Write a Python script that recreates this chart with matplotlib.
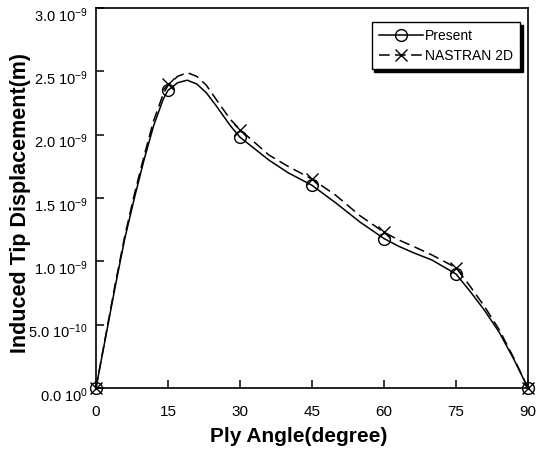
import matplotlib
matplotlib.use("Agg")
import matplotlib.pyplot as plt
import matplotlib.transforms as mtransforms

plt.rcParams["font.family"] = ["Liberation Sans", "DejaVu Sans"]
plt.rcParams["mathtext.default"] = "regular"

# Marker values at the computed ply angles (x 1e-9 m)
ply_angles = [0, 15, 30, 45, 60, 75, 90]
present_pts = [0.0, 2.35, 1.98, 1.60, 1.18, 0.90, 0.0]
nastran_pts = [0.0, 2.40, 2.04, 1.65, 1.23, 0.95, 0.0]

# Curves (x 1e-9 m)
curve_angles = [0, 2, 4, 6, 8, 10, 12, 14, 15, 17, 19, 21, 23, 25, 28, 30,
                33, 36, 40, 45, 50, 55, 60, 63, 66, 70, 75, 78, 81, 84, 87, 90]
present_curve = [0.0, 0.40, 0.80, 1.18, 1.50, 1.80, 2.07, 2.28, 2.35, 2.41,
                 2.43, 2.40, 2.33, 2.23, 2.07, 1.98, 1.89, 1.80, 1.70, 1.60,
                 1.46, 1.31, 1.18, 1.12, 1.07, 1.01, 0.90, 0.76, 0.61, 0.44,
                 0.23, 0.0]
nastran_curve = [0.0, 0.41, 0.82, 1.20, 1.53, 1.83, 2.11, 2.32, 2.39, 2.46,
                 2.49, 2.46, 2.39, 2.28, 2.12, 2.04, 1.94, 1.84, 1.75, 1.65,
                 1.52, 1.36, 1.23, 1.17, 1.12, 1.05, 0.95, 0.80, 0.64, 0.46,
                 0.24, 0.0]

y_ticks = [0.0, 0.5, 1.0, 1.5, 2.0, 2.5, 3.0]
y_tick_labels = [r"0.0 10$^{0}$", r"5.0 10$^{-10}$", r"1.0 10$^{-9}$",
                 r"1.5 10$^{-9}$", r"2.0 10$^{-9}$", r"2.5 10$^{-9}$",
                 r"3.0 10$^{-9}$"]

fig = plt.figure(figsize=(5.4, 4.55), dpi=100)
ax = fig.add_axes([96 / 540, 1 - 388 / 455, 432 / 540, 380 / 455])

line_p, = ax.plot(curve_angles, present_curve, color="black", lw=1.1)
line_n, = ax.plot(curve_angles, nastran_curve, color="black", lw=1.1,
                  dashes=(7, 3.5))
mark_p, = ax.plot(ply_angles, present_pts, ls="none", marker="o", ms=8.5,
                  mfc="none", mec="black", mew=1.0, clip_on=False)
mark_n, = ax.plot(ply_angles, nastran_pts, ls="none", marker="x", ms=8,
                  mec="black", mew=1.0, clip_on=False)

ax.set_xlim(0, 90)
ax.set_ylim(0, 3.0)
ax.set_xticks(ply_angles)
ax.set_yticks(y_ticks)
ax.set_yticklabels(y_tick_labels)
ax.tick_params(axis="both", direction="in", length=6, width=1.1,
               labelsize=11, top=False, right=False)
ax.tick_params(axis="x", pad=12.5)
ax.tick_params(axis="y", pad=6, labelsize=10.5)

# nudge y labels down so the mantissa sits under the tick like the original
shift = mtransforms.ScaledTranslation(0, -6 / 100, fig.dpi_scale_trans)
for lab in ax.get_yticklabels():
    lab.set_transform(lab.get_transform() + shift)

for sp in ax.spines.values():
    sp.set_linewidth(1.2)

ax.set_xlabel("Ply Angle(degree)", fontsize=15, fontweight="bold")
ax.set_ylabel("Induced Tip Displacement(m)", fontsize=15.5, fontweight="bold")
ax.xaxis.set_label_coords((299 - 96) / 432, -(427 - 388) / 380)
ax.yaxis.set_label_coords(-(96 - 31) / 432, (388 - 203) / 380)

leg = ax.legend([(line_p, mark_p), (line_n, mark_n)],
                ["Present", "NASTRAN 2D"],
                loc="upper right", bbox_to_anchor=((520 - 96) / 432, (388 - 22) / 380),
                borderaxespad=0, fontsize=10, frameon=True, fancybox=False,
                shadow={"color": "black", "alpha": 1.0},
                handlelength=3.2, handletextpad=0.15, labelspacing=0.4,
                borderpad=0.5, numpoints=1)
leg.get_frame().set_edgecolor("black")
leg.get_frame().set_linewidth(1.0)

fig.savefig("out.png", dpi=100)
